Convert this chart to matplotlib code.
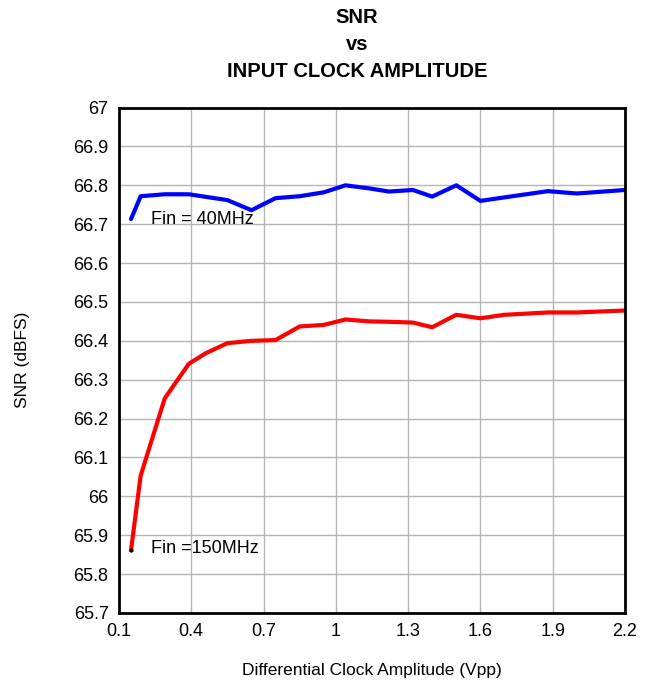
import matplotlib
matplotlib.use("Agg")
import matplotlib.pyplot as plt

plt.rcParams['font.family'] = ['Liberation Sans', 'DejaVu Sans']

# Data
x_40 = [0.15, 0.19, 0.29, 0.39, 0.55, 0.65, 0.75, 0.85, 0.95, 1.04, 1.14, 1.22,
        1.32, 1.40, 1.50, 1.60, 1.70, 1.88, 2.00, 2.20]
snr_40 = [66.713, 66.772, 66.777, 66.777, 66.762, 66.736, 66.767, 66.772, 66.782,
          66.800, 66.792, 66.784, 66.788, 66.771, 66.800, 66.760, 66.769, 66.785,
          66.779, 66.788]

x_150 = [0.15, 0.19, 0.29, 0.39, 0.46, 0.55, 0.65, 0.75, 0.85, 0.95, 1.04, 1.14,
         1.22, 1.32, 1.40, 1.50, 1.60, 1.70, 1.88, 2.00, 2.20]
snr_150 = [65.861, 66.053, 66.252, 66.341, 66.368, 66.394, 66.400, 66.402, 66.437,
           66.441, 66.455, 66.450, 66.449, 66.447, 66.435, 66.467, 66.458, 66.467,
           66.473, 66.473, 66.478]

x_ticks = [0.1, 0.4, 0.7, 1.0, 1.3, 1.6, 1.9, 2.2]
x_ticklabels = ["0.1", "0.4", "0.7", "1", "1.3", "1.6", "1.9", "2.2"]
y_ticks = [65.7, 65.8, 65.9, 66.0, 66.1, 66.2, 66.3, 66.4, 66.5, 66.6, 66.7, 66.8, 66.9, 67.0]
y_ticklabels = ["65.7", "65.8", "65.9", "66", "66.1", "66.2", "66.3", "66.4", "66.5",
                "66.6", "66.7", "66.8", "66.9", "67"]

fig = plt.figure(figsize=(6.5, 6.83), dpi=100)
ax = fig.add_axes([0.183, 0.1025, 0.7785, 0.74])

ax.plot(x_40, snr_40, color="#0000ff", lw=3, solid_capstyle="round", zorder=3)
ax.plot(x_150, snr_150, color="#ff0000", lw=3, solid_capstyle="round", zorder=3)
ax.plot([x_150[0]], [snr_150[0]], marker="o", ms=2, color="black", zorder=4)

ax.set_xlim(0.1, 2.2)
ax.set_ylim(65.7, 67.0)
ax.set_xticks(x_ticks)
ax.set_xticklabels(x_ticklabels)
ax.set_yticks(y_ticks)
ax.set_yticklabels(y_ticklabels)
ax.tick_params(length=0, labelsize=13)
ax.tick_params(axis="y", pad=7.5)
ax.tick_params(axis="x", pad=7)
ax.grid(True, color="#b4b4b4", lw=1)
for s in ax.spines.values():
    s.set_linewidth(2)
    s.set_color("black")
    s.set_zorder(5)

ax.text(0.231, 66.712, "Fin = 40MHz", fontsize=13, va="center", ha="left", zorder=6)
ax.text(0.231, 65.865, "Fin =150MHz", fontsize=13, va="center", ha="left", zorder=6)

ax.set_xlabel("Differential Clock Amplitude (Vpp)", fontsize=12.5, labelpad=17)
ax.set_ylabel("SNR (dBFS)", fontsize=12.5, labelpad=31)

fig.text(0.549, 0.975, "SNR", fontsize=14.5, fontweight="bold", ha="center", va="center")
fig.text(0.549, 0.935, "vs", fontsize=14.5, fontweight="bold", ha="center", va="center")
fig.text(0.549, 0.895, "INPUT CLOCK AMPLITUDE", fontsize=14.5, fontweight="bold", ha="center", va="center")

fig.savefig("out.png", dpi=100)
